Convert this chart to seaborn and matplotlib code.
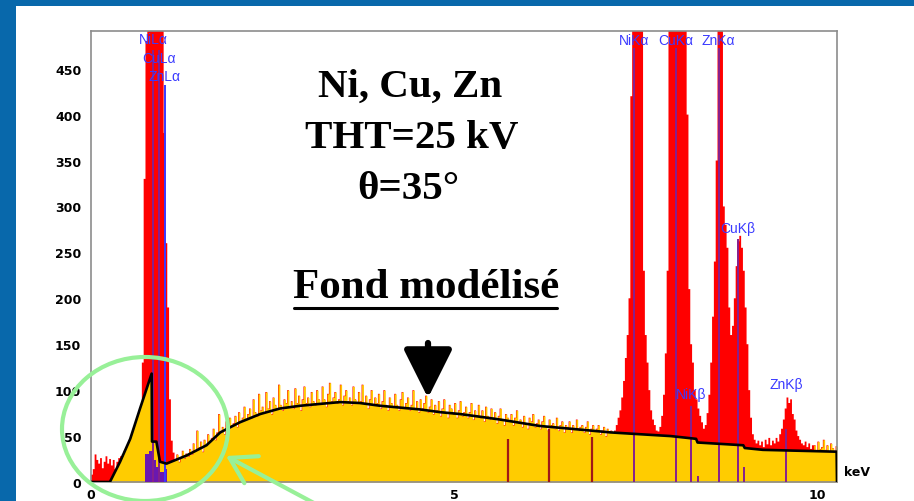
import numpy as np
import pandas as pd
import matplotlib
matplotlib.use("Agg")
import matplotlib.pyplot as plt
import seaborn as sns
from matplotlib.patches import Rectangle, Ellipse, FancyArrowPatch
from matplotlib.lines import Line2D
from matplotlib.ticker import MultipleLocator, FixedLocator

# ---------------- data ----------------
channel_width = 0.025  # keV, first channel starts at 0
counts = [
    # 0.000 - 0.675
    8, 14, 30, 24, 20, 26, 15, 22, 28, 20, 25, 18, 24, 14, 22, 26, 28, 30, 34, 38,
    42, 47, 52, 58, 64, 70, 76, 82,
    # 0.700 - 1.125 (L lines)
    130, 330, 480, 700, 800, 1000, 1000, 1000, 1000, 900, 700, 520, 380, 260, 190, 90,
    45, 32,
    # 1.150 - 7.175
    24, 30, 22, 27, 34, 26, 31, 28,
    36, 30, 42, 34, 56, 38, 44, 33,
    46, 40, 52, 44, 48, 58, 46, 54,
    74, 55, 60, 52, 66, 58, 70, 62,
    64, 72, 60, 76, 66, 70, 82, 68,
    74, 80, 70, 90, 76, 72, 96, 78,
    82, 76, 98, 80, 88, 74, 92, 84,
    80, 106, 84, 78, 90, 86, 100, 82,
    88, 80, 102, 86, 94, 78, 90, 104,
    86, 92, 82, 98, 88, 84, 100, 90,
    86, 104, 90, 82, 96, 108, 88, 92,
    98, 86, 90, 106, 84, 94, 100, 88,
    92, 84, 104, 90, 86, 98, 88, 106,
    86, 94, 80, 90, 100, 84, 92, 86,
    96, 80, 88, 100, 84, 78, 92, 86,
    82, 96, 84, 78, 90, 98, 80, 86,
    92, 78, 84, 100, 80, 88, 76, 90,
    80, 86, 94, 76, 82, 90, 74, 84,
    78, 88, 72, 80, 90, 76, 70, 84,
    80, 74, 86, 70, 78, 88, 72, 76,
    82, 70, 76, 86, 68, 78, 72, 84,
    70, 78, 66, 82, 72, 68, 80, 70,
    76, 64, 72, 80, 68, 62, 74, 70,
    66, 74, 62, 70, 78, 64, 68, 60,
    72, 64, 58, 70, 66, 74, 60, 64,
    68, 58, 66, 72, 60, 56, 68, 62,
    64, 58, 70, 56, 62, 66, 54, 62,
    60, 66, 54, 62, 58, 68, 56, 60,
    62, 54, 60, 66, 52, 58, 62, 55,
    58, 62, 52, 56, 60, 50, 58, 55,
    56, 54,
    # 7.200 - 7.825 (NiKa)
    56, 62, 70, 78, 92, 110, 135, 160, 200, 420, 600, 800, 850, 800, 700, 560, 230, 160,
    130, 100, 78, 68, 62, 56, 55, 60,
    # 7.850 - 8.475 (CuKa, NiKb)
    72, 95, 140, 230, 700, 900, 1000, 1000, 1000, 1000, 950, 850, 750, 600, 400, 210,
    150, 130, 100, 90, 80, 72, 65, 58, 62, 75,
    # 8.500 - 8.825 (ZnKa)
    95, 130, 180, 240, 350, 520, 520, 500, 300, 280, 255, 190, 160, 170,
    # 8.850 - 9.425 (CuKb)
    200, 235, 262, 268, 255, 230, 190, 150, 100, 70, 52, 46, 42, 45, 40, 44, 38, 46,
    41, 48, 40, 45, 42, 48,
    # 9.450 - 9.925 (ZnKb)
    44, 52, 58, 68, 80, 92, 86, 90, 74, 68, 56, 50, 46, 42, 40, 44, 38, 42, 36, 40,
    # 9.950 - 10.250
    40, 34, 44, 36, 38, 46, 35, 40, 33, 42, 37, 34, 39,
]
# energy ranges where the fitted background (not the spectrum) is shaded
peak_windows = [(0.0, 1.15), (7.20, 9.95)]

# modelled background (black line)
bkg_energy = [0.00, 0.26, 0.40, 0.54, 0.675, 0.835, 0.84, 0.90, 0.95, 1.04, 1.32, 1.59,
              1.78, 2.05, 2.33, 2.60, 2.88, 3.15, 3.43, 3.70, 3.98, 4.53, 4.81, 5.08,
              5.36, 5.63, 6.18, 6.74, 7.15, 7.56, 7.98, 8.33, 8.35, 8.98, 9.00, 9.25,
              10.265, 10.27]
bkg_counts = [0, 0, 22, 47, 80, 118, 44, 44, 22, 20, 29, 40,
              54, 65, 74, 80, 83, 85, 87, 86, 83, 79, 76, 74,
              71, 68, 61, 57, 54, 52, 50, 47, 43, 40, 37, 35,
              33, 0]

# purple residual bars under the L lines
lres_energy = [0.75, 0.80, 0.85, 0.90, 0.95, 1.00]
lres_counts = [30, 34, 24, 16, 11, 14]

# identified lines
line_names = ["NiLα", "CuLα", "ZnLα", "NiKα", "CuKα", "ZnKα", "NiKβ", "CuKβ", "ZnKβ"]
line_energy = [0.851, 0.930, 1.012, 7.478, 8.048, 8.639, 8.265, 8.905, 9.572]
line_height = [470, 470, 432, 472, 472, 472, 83, 265, 58]
label_y = [482, 462, 442, 481, 481, 481, 96, 277, 107]

# small extra markers
esc_energy = [5.74, 6.31, 6.90]
esc_height = [47, 58, 49]
sum_energy = [8.35, 8.99]
sum_height = [6, 16]

# ---------------- figure ----------------
W, H = 914, 502
def fx(x):
    return x / W
def fy(y):
    return 1 - y / H

sns.set_style("white")
plt.rcParams['font.family'] = ['DejaVu Sans']
plt.rcParams['text.color'] = 'black'

RED = '#ff0000'
YELLOW = '#ffcc00'
PURPLE = '#86208e'
BLUE_TXT = '#3a3aff'
FRAME = '#0868ab'
GRAY = '#8c8c8c'

fig = plt.figure(figsize=(W / 100, H / 100), dpi=100)
fig.patch.set_facecolor(FRAME)
fig.add_artist(Rectangle((fx(16), 0), 1 - fx(16), fy(7), transform=fig.transFigure,
                         facecolor='white', edgecolor='none', zorder=-5))

ax = fig.add_axes([fx(91), fy(483), (837 - 91) / W, (483 - 32) / H])
ax.set_facecolor('white')

edges = [round(i * channel_width, 4) for i in range(len(counts) + 1)]
centers = [round((i + 0.5) * channel_width, 4) for i in range(len(counts))]

in_peak = [any(a < c < b for a, b in peak_windows) for c in centers]
yellow_counts = [0 if p else c for p, c in zip(in_peak, counts)]

spec = pd.DataFrame({"energy": centers, "counts": counts, "bg_part": yellow_counts})

# full spectrum in red
sns.histplot(data=spec, x="energy", weights="counts", bins=edges, element='step', fill=True,
             color=RED, alpha=1, linewidth=0, ax=ax, zorder=1)
# background part of the spectrum in yellow
sns.histplot(data=spec, x="energy", weights="bg_part", bins=edges, element='step', fill=True,
             color=YELLOW, alpha=1, linewidth=0, ax=ax, zorder=2)
# under the fitted background inside the peak windows
for a, b in peak_windows:
    poly = ax.fill_between(bkg_energy, 0, bkg_counts, color=YELLOW, linewidth=0, zorder=2)
    poly.set_clip_path(Rectangle((a, 0), b - a, 1000, transform=ax.transData))

# purple residual bars
ax.bar(lres_energy, lres_counts, width=0.05, align='edge', color='#6a18b0',
       linewidth=0, zorder=3)

# line markers
for name, e, h in zip(line_names, line_energy, line_height):
    col = BLUE_TXT if name == "ZnLα" else PURPLE
    ax.vlines(e, 0, h, colors=col, linewidth=1.4, zorder=3)
ax.vlines(esc_energy, 0, esc_height, colors='#a01818', linewidth=1.6, zorder=3)
ax.vlines(sum_energy, 0, sum_height, colors=PURPLE, linewidth=1.4, zorder=3)

# modelled background
bk = pd.DataFrame({"energy": bkg_energy, "counts": bkg_counts})
sns.lineplot(data=bk, x="energy", y="counts", color='black', linewidth=1.9, ax=ax,
             estimator=None, sort=False, zorder=4)

# line labels
for name, e, yl in zip(line_names, line_energy, label_y):
    ax.text(e, yl, name, color=BLUE_TXT, fontsize=10, family=['Liberation Sans', 'DejaVu Sans'],
            ha='center', va='center', zorder=6)

ax.set_xlim(0, 10.27)
ax.set_ylim(0, 491)
ax.set_xlabel('')
ax.set_ylabel('')

ax.xaxis.set_major_locator(FixedLocator([0, 5, 10]))
ax.xaxis.set_minor_locator(FixedLocator([1, 2, 3, 4, 6, 7, 8, 9]))
ax.yaxis.set_major_locator(MultipleLocator(50))
ax.yaxis.set_minor_locator(MultipleLocator(10))
ax.tick_params(which='major', direction='out', length=5, width=1, color=GRAY,
               labelsize=9, pad=2, labelcolor='black')
ax.tick_params(which='minor', direction='out', length=3, width=1, color=GRAY)
ax.tick_params(axis='x', which='major', length=4, pad=0)
for lab in ax.get_xticklabels() + ax.get_yticklabels():
    lab.set_fontweight('bold')
for side in ['left', 'top', 'right', 'bottom']:
    ax.spines[side].set_visible(True)
    ax.spines[side].set_color(GRAY)
    ax.spines[side].set_linewidth(1.2)

fig.text(fx(857), fy(473), 'keV', fontsize=9, fontweight='bold', ha='center', va='center',
         color='black')

# titles
serif = ['Liberation Serif', 'DejaVu Serif']
fig.text(fx(410), fy(97), 'Ni, Cu, Zn', fontsize=29.5, fontweight='bold', family=serif,
         ha='center', va='baseline', color='black')
fig.text(fx(412), fy(148), 'THT=25 kV', fontsize=29.5, fontweight='bold', family=serif,
         ha='center', va='baseline', color='black')
fig.text(fx(408), fy(199), 'θ=35°', fontsize=29.5, fontweight='bold', family=serif,
         ha='center', va='baseline', color='black')
fig.text(fx(426), fy(298), 'Fond modélisé', fontsize=31, fontweight='bold', family=serif,
         ha='center', va='baseline', color='black')
fig.add_artist(Line2D([fx(294), fx(557)], [fy(309), fy(309)], transform=fig.transFigure,
                      color='black', linewidth=2.2))

# black arrow
fig.add_artist(FancyArrowPatch((fx(428), fy(344)), (fx(428), fy(399)), transform=fig.transFigure,
                               arrowstyle='-|>,head_length=1.5,head_width=0.75',
                               mutation_scale=20, color='black', linewidth=4.5,
                               shrinkA=0, shrinkB=0, zorder=7))

# green highlight
GREEN = '#98f098'
fig.add_artist(Ellipse((fx(145), fy(430)), width=166 / W, height=144 / H,
                       transform=fig.transFigure, fill=False, edgecolor=GREEN,
                       linewidth=3, zorder=8))
fig.add_artist(FancyArrowPatch((fx(340), fy(518)), (fx(226), fy(457)), transform=fig.transFigure,
                               arrowstyle='->,head_length=0.9,head_width=0.55',
                               mutation_scale=20, color=GREEN, linewidth=3,
                               shrinkA=0, shrinkB=0, zorder=8))

fig.savefig('out.png', dpi=100, facecolor=fig.get_facecolor())
